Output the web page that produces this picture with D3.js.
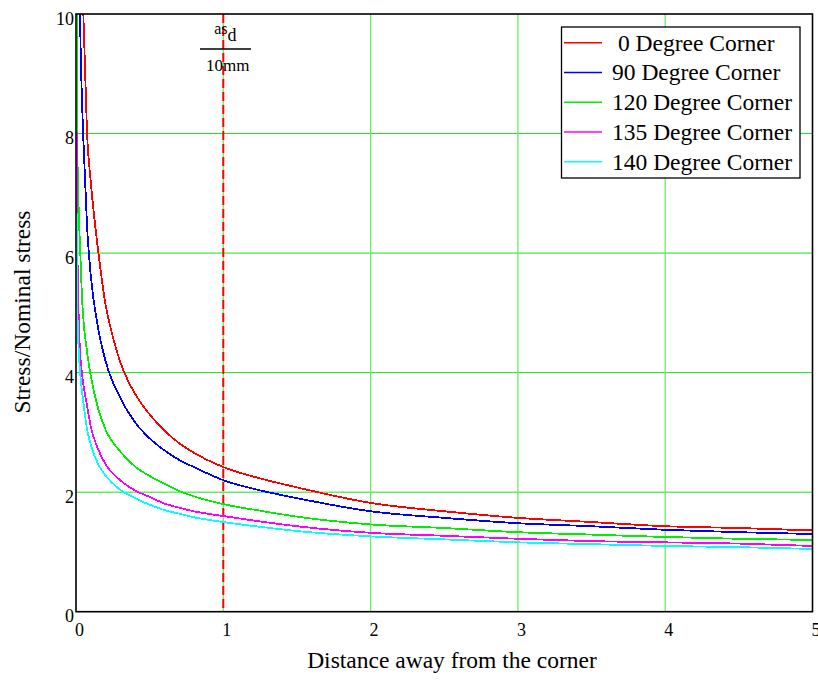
<!DOCTYPE html>
<html><head><meta charset="utf-8">
<script src="https://cdn.jsdelivr.net/npm/d3@7/dist/d3.min.js"></script>
<style>body{margin:0;background:#fff}svg{display:block}text{font-family:"Liberation Serif","Times New Roman",serif;fill:#000}</style>
</head><body>
<script>
// ---- data ----
const seriesNames = [" 0 Degree Corner", "90 Degree Corner", "120 Degree Corner", "135 Degree Corner", "140 Degree Corner"];
const seriesColors = ["#ff0000", "#0000ff", "#00ee00", "#ff00ff", "#00ffff"];

const redX = [0.02, 0.03, 0.04, 0.05, 0.075, 0.1, 0.15, 0.2, 0.25, 0.3, 0.35, 0.4, 0.45, 0.5, 0.6, 0.7, 0.8, 1, 1.25, 1.5, 2, 2.5, 3, 3.5, 4, 4.5, 5];
const redY = [15.2, 12.6, 11.1, 10.0, 8.0, 7.2, 6.05, 5.15, 4.6, 4.18, 3.88, 3.65, 3.46, 3.3, 3.03, 2.82, 2.66, 2.42, 2.23, 2.08, 1.82, 1.68, 1.57, 1.50, 1.43, 1.40, 1.36];

const blueX = [0.01, 0.02, 0.03, 0.04, 0.05, 0.075, 0.1, 0.15, 0.2, 0.3, 0.4, 0.5, 0.6, 0.7, 0.8, 1, 1.25, 1.5, 2, 2.5, 3, 3.5, 4, 4.5, 5];
const blueY = [14.5, 11.5, 9.6, 8.6, 7.9, 6.45, 5.63, 4.75, 4.2, 3.58, 3.17, 2.9, 2.7, 2.54, 2.42, 2.2, 2.03, 1.9, 1.68, 1.57, 1.48, 1.43, 1.37, 1.33, 1.30];

const greenX = [0.002, 0.005, 0.01, 0.02, 0.03, 0.04, 0.05, 0.075, 0.1, 0.15, 0.2, 0.3, 0.4, 0.5, 0.6, 0.7, 0.8, 1, 1.25, 1.5, 2, 2.5, 3, 3.5, 4, 4.5, 5];
const greenY = [11.0, 10.0, 7.6, 6.6, 5.95, 5.3, 4.9, 4.35, 3.95, 3.4, 3.05, 2.68, 2.43, 2.27, 2.14, 2.02, 1.93, 1.80, 1.69, 1.59, 1.46, 1.40, 1.33, 1.29, 1.25, 1.22, 1.20];

const magentaX = [0.001, 0.002, 0.005, 0.01, 0.02, 0.03, 0.04, 0.05, 0.075, 0.1, 0.15, 0.2, 0.3, 0.4, 0.5, 0.6, 0.7, 0.8, 1, 1.25, 1.5, 2, 2.5, 3, 3.5, 4, 4.5, 5];
const magentaY = [12.0, 10.0, 7.5, 6.0, 4.8, 4.25, 4.0, 3.8, 3.45, 3.1, 2.72, 2.47, 2.2, 2.03, 1.92, 1.81, 1.74, 1.68, 1.60, 1.51, 1.43, 1.32, 1.27, 1.22, 1.18, 1.16, 1.14, 1.10];

const cyanX = [0.001, 0.002, 0.005, 0.01, 0.02, 0.03, 0.04, 0.05, 0.075, 0.1, 0.15, 0.2, 0.3, 0.4, 0.5, 0.6, 0.7, 0.8, 1, 1.25, 1.5, 2, 2.5, 3, 3.5, 4, 4.5, 5];
const cyanY = [10.0, 8.3, 6.2, 5.0, 4.3, 3.95, 3.7, 3.5, 3.05, 2.8, 2.47, 2.28, 2.04, 1.9, 1.79, 1.70, 1.64, 1.58, 1.50, 1.42, 1.35, 1.26, 1.21, 1.16, 1.13, 1.10, 1.08, 1.05];

const xTicks = [0, 1, 2, 3, 4, 5];
const yTicks = [0, 2, 4, 6, 8, 10];
const markerX = 1; // as_d / 10mm

const xTitle = "Distance away from the corner";
const yTitle = "Stress/Nominal stress";

// ---- layout ----
const W = 818, H = 689;
const L = 76, R = 812.5, T = 14, B = 611.7;

const svg = d3.select("body").append("svg").attr("width", W).attr("height", H);
const x = d3.scaleLinear().domain([0, 5]).range([L, R]);
const y = d3.scaleLinear().domain([0, 10]).range([B, T]);

svg.append("defs").append("clipPath").attr("id", "clip")
  .append("rect").attr("x", L).attr("y", T).attr("width", R - L).attr("height", B - T);

// grid
const grid = svg.append("g");
grid.selectAll("line.h").data(yTicks.filter(d => d > 0 && d < 10)).join("line")
  .attr("x1", L).attr("x2", R).attr("y1", d => y(d)).attr("y2", d => y(d))
  .attr("stroke", "#22dd22").attr("stroke-width", 1);
grid.selectAll("line.v").data(xTicks.filter(d => d > 0 && d < 5)).join("line")
  .attr("y1", T).attr("y2", B).attr("x1", d => x(d)).attr("x2", d => x(d))
  .attr("stroke", "#66ee66").attr("stroke-width", 1.3);

// marker dashed line
svg.append("line").attr("x1", x(markerX)).attr("x2", x(markerX)).attr("y1", T).attr("y2", B)
  .attr("stroke", "#ff0000").attr("stroke-width", 2).attr("stroke-dasharray", "9,4");

// curves
const allX = [redX, blueX, greenX, magentaX, cyanX];
const allY = [redY, blueY, greenY, magentaY, cyanY];
const line = d3.line().x(d => x(d[0])).y(d => y(d[1])).curve(d3.curveMonotoneX);
const curves = svg.append("g").attr("clip-path", "url(#clip)");
allX.forEach((xs, i) => {
  const pts = xs.map((v, j) => [v, allY[i][j]]);
  curves.append("path").datum(pts).attr("d", line)
    .attr("fill", "none").attr("stroke", seriesColors[i]).attr("stroke-width", 1.8)
    .attr("shape-rendering", "crispEdges");
});

// frame
svg.append("rect").attr("x", L).attr("y", T).attr("width", R - L).attr("height", B - T)
  .attr("fill", "none").attr("stroke", "#000").attr("stroke-width", 1.6);

// tick labels
const xAxis = d3.axisBottom(x).tickValues(xTicks).tickSize(0).tickFormat(d3.format("d"));
const gx = svg.append("g").attr("transform", `translate(0,${B})`).call(xAxis);
gx.select(".domain").remove();
gx.selectAll("text").attr("font-size", 18).attr("font-family", "Liberation Serif")
  .attr("dy", null).attr("y", 24).attr("dx", 3).attr("fill", "#000");

const yAxis = d3.axisLeft(y).tickValues(yTicks).tickSize(0).tickFormat(d3.format("d"));
const gy = svg.append("g").attr("transform", `translate(${L},0)`).call(yAxis);
gy.select(".domain").remove();
gy.selectAll("text").attr("font-size", 18).attr("font-family", "Liberation Serif")
  .attr("dy", null).attr("y", 10).attr("x", -2).attr("fill", "#000");

// annotation as_d / 10mm
const ann = svg.append("g");
const t1 = ann.append("text").attr("x", x(markerX) + 2).attr("y", 34).attr("text-anchor", "middle");
t1.append("tspan").attr("font-size", 16).text("as");
t1.append("tspan").attr("font-size", 18).attr("dy", 7).text("d");
ann.append("line").attr("x1", 200).attr("x2", 251).attr("y1", 49).attr("y2", 49)
  .attr("stroke", "#000").attr("stroke-width", 1.3);
ann.append("text").attr("x", x(markerX) + 4.5).attr("y", 71).attr("text-anchor", "middle")
  .attr("font-size", 17).text("10mm");

// axis titles
svg.append("text").attr("x", 452).attr("y", 668).attr("text-anchor", "middle")
  .attr("font-size", 23.5).text(xTitle);
svg.append("text").attr("transform", "translate(30,312) rotate(-90)").attr("text-anchor", "middle")
  .attr("font-size", 23.5).text(yTitle);

// legend
const lg = svg.append("g");
lg.append("rect").attr("x", 561.5).attr("y", 27).attr("width", 238.5).attr("height", 151)
  .attr("fill", "#fff").attr("stroke", "#000").attr("stroke-width", 1.3);
const rowY = d3.scaleLinear().domain([0, 4]).range([42.7, 161.7]);
seriesNames.forEach((n, i) => {
  lg.append("line").attr("x1", 564).attr("x2", 602).attr("y1", rowY(i)).attr("y2", rowY(i))
    .attr("stroke", seriesColors[i]).attr("stroke-width", 1.5);
  lg.append("text").attr("x", 612).attr("y", rowY(i) + 8).attr("font-size", 23.5)
    .style("white-space", "pre").text(n);
});
</script>
</body></html>
